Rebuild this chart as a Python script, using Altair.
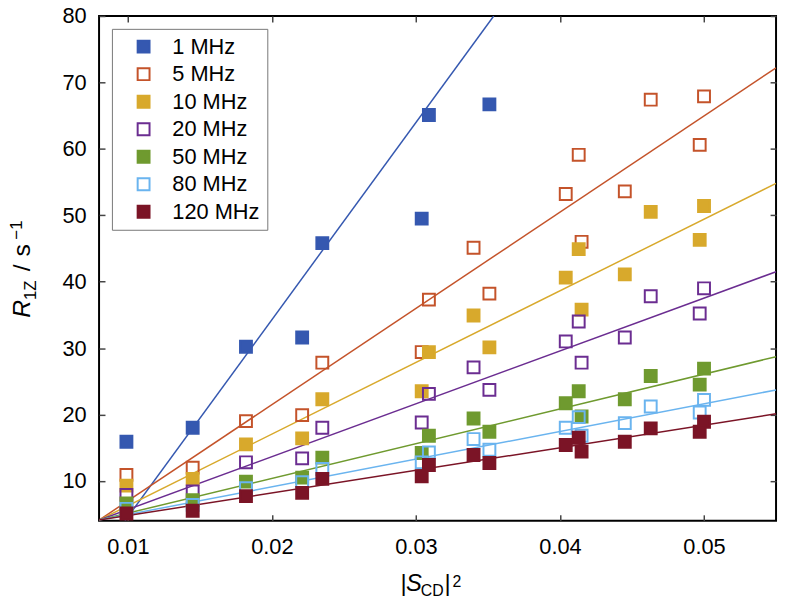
import altair as alt
import pandas as pd

# ---------------- data ----------------
series_names = ["1 MHz", "5 MHz", "10 MHz", "20 MHz", "50 MHz", "80 MHz", "120 MHz"]
stroke_colors = ["#3558b0", "#c4532a", "#d8a92c", "#6b2d91", "#6f9a2f", "#6ab4ef", "#7b1426"]
fill_colors = ["#3558b0", "transparent", "#d8a92c", "transparent", "#6f9a2f", "transparent", "#7b1426"]

# |S_CD|^2 positions shared by the series
x_vals = [0.0099, 0.0145, 0.0182, 0.0221, 0.0235, 0.0304, 0.0309, 0.0340,
          0.0351, 0.0404, 0.0413, 0.0415, 0.0445, 0.0463, 0.0500, 0.0497]

x_1mhz = [0.0099, 0.0145, 0.0182, 0.0221, 0.0235, 0.0304, 0.0309, 0.0351]
y_1mhz = [15.9, 18.0, 30.2, 31.6, 45.8, 49.5, 65.1, 66.7]

y_5mhz = [10.9, 12.0, 19.0, 19.9, 27.8, 29.4, 37.3, 45.1, 38.2, 53.2, 59.1, 46.0, 53.6, 67.4, 67.9, 60.6]
y_10mhz = [9.3, 10.3, 15.5, 16.4, 22.3, 23.5, 29.4, 34.9, 30.1, 40.6, 44.9, 35.8, 41.1, 50.5, 51.4, 46.3]
y_20mhz = [7.9, 8.4, 12.8, 13.4, 18.0, 18.8, 23.1, 27.1, 23.7, 31.0, 34.0, 27.8, 31.6, 37.8, 39.0, 35.2]
y_50mhz = [6.6, 7.1, 9.9, 10.5, 13.5, 14.2, 16.8, 19.4, 17.4, 21.7, 23.5, 19.7, 22.3, 25.8, 26.9, 24.5]
y_80mhz = [5.8, 6.4, 8.9, 9.8, 11.8, 12.8, 14.3, 16.3, 14.7, 18.0, 19.6, 16.8, 18.7, 21.2, 22.2, 20.3]
y_120mhz = [5.1, 5.5, 7.7, 8.2, 10.3, 10.7, 12.4, 13.9, 12.7, 15.4, 16.5, 14.4, 15.9, 17.9, 18.9, 17.4]

# fitted lines: start and end points
fit_x_start = [0.0098, 0.008, 0.008, 0.008, 0.008, 0.008, 0.008]
fit_y_start = [4.0, 4.1, 4.1, 4.1, 4.1, 4.1, 4.1]
fit_x_end = [0.0354, 0.055, 0.055, 0.055, 0.055, 0.055, 0.055]
fit_y_end = [80.0, 72.2, 54.8, 41.5, 28.7, 23.7, 20.1]

x_ticks = [0.01, 0.02, 0.03, 0.04, 0.05]
y_ticks = [10, 20, 30, 40, 50, 60, 70, 80]

# ---------------- tables ----------------
rows = []
for xv, yv in zip(x_1mhz, y_1mhz):
    rows.append({"series": series_names[0], "x": xv, "y": yv, "k": 0})
for k, ys in enumerate([y_5mhz, y_10mhz, y_20mhz, y_50mhz, y_80mhz, y_120mhz], start=1):
    for xv, yv in zip(x_vals, ys):
        rows.append({"series": series_names[k], "x": xv, "y": yv, "k": k})
pts = pd.DataFrame(rows)

lrows = []
for k, s in enumerate(series_names):
    lrows.append({"series": s, "x": fit_x_start[k], "y": fit_y_start[k], "k": k})
    lrows.append({"series": s, "x": fit_x_end[k], "y": fit_y_end[k], "k": k})
lines_df = pd.DataFrame(lrows)

FONT = "Liberation Sans"
xscale = alt.Scale(domain=[0.008, 0.055], nice=False, zero=False)
yscale = alt.Scale(domain=[4, 80], nice=False, zero=False)
stroke_scale = alt.Scale(domain=series_names, range=stroke_colors)
fill_scale = alt.Scale(domain=series_names, range=fill_colors)

tick_common = dict(domain=False, grid=False, tickSize=6, offset=-6, tickColor="#444444",
                   tickWidth=1.5, title=None)

legend = alt.Legend(title=None, orient="top-left", offset=13,
                    symbolType="square", symbolSize=144, symbolStrokeWidth=2,
                    labelFont=FONT, labelFontSize=22, labelColor="black",
                    strokeColor="#777777", padding=7, rowPadding=5.8,
                    symbolOffset=14, labelOffset=18, fillColor="white")

lines = alt.Chart(lines_df).mark_line(strokeWidth=1.5, clip=True).encode(
    x=alt.X("x:Q", scale=xscale,
            axis=alt.Axis(orient="top", values=x_ticks, labels=False, **tick_common)),
    y=alt.Y("y:Q", scale=yscale,
            axis=alt.Axis(orient="right", values=y_ticks, labels=False, **tick_common)),
    stroke=alt.Stroke("series:N", scale=stroke_scale, legend=legend),
    detail="series:N",
)

points = alt.Chart(pts).mark_point(shape="square", size=144, strokeWidth=2, opacity=1).encode(
    x=alt.X("x:Q", scale=xscale,
            axis=alt.Axis(orient="bottom", values=x_ticks, format=".2f", labelPadding=16,
                          labelFont=FONT, labelFontSize=22, labelColor="black",
                          labelOverlap=False, labelFlush=False, **tick_common)),
    y=alt.Y("y:Q", scale=yscale,
            axis=alt.Axis(orient="left", values=y_ticks, format="d", labelPadding=13,
                          labelFont=FONT, labelFontSize=22, labelColor="black",
                          labelOverlap=False, **tick_common)),
    stroke=alt.Stroke("series:N", scale=stroke_scale, legend=legend),
    fill=alt.Fill("series:N", scale=fill_scale, legend=legend),
    order=alt.Order("k:Q"),
)

# axis titles as rich text pieces
y_title_text = ["R", "1Z", "/", "s", "\u22121"]
x_title_text = ["|", "S", "CD", "|", "2"]


def piece(txt, x, y, size, italic=False, angle=0):
    return alt.Chart(alt.Data(values=[{"t": txt}])).mark_text(
        font=FONT, fontSize=size, fontStyle="italic" if italic else "normal",
        align="left", baseline="alphabetic", angle=angle, color="black"
    ).encode(text="t:N", x=alt.value(x), y=alt.value(y))


titles = [
    piece(y_title_text[0], -70, 305, 25, True, 270),
    piece(y_title_text[1], -64, 287, 17, False, 270),
    piece(y_title_text[2], -70, 258, 25, False, 270),
    piece(y_title_text[3], -70, 243, 25, False, 270),
    piece(y_title_text[4], -78, 226, 17, False, 270),
    piece(x_title_text[0], 304.5, 581, 24),
    piece(x_title_text[1], 310, 581, 24, True),
    piece(x_title_text[2], 325, 586, 16),
    piece(x_title_text[3], 349, 581, 24),
    piece(x_title_text[4], 357, 577, 16),
]

chart = alt.layer(lines, points, *titles).resolve_axis(
    x="independent", y="independent"
).properties(
    width=684, height=510,
    autosize=alt.AutoSizeParams(type="none"),
    padding={"left": 92, "top": 5, "right": 4, "bottom": 79},
    background="white",
).configure_view(stroke="black", strokeWidth=2)

chart.save("out.html", embed_options={"renderer": "svg", "actions": False})
